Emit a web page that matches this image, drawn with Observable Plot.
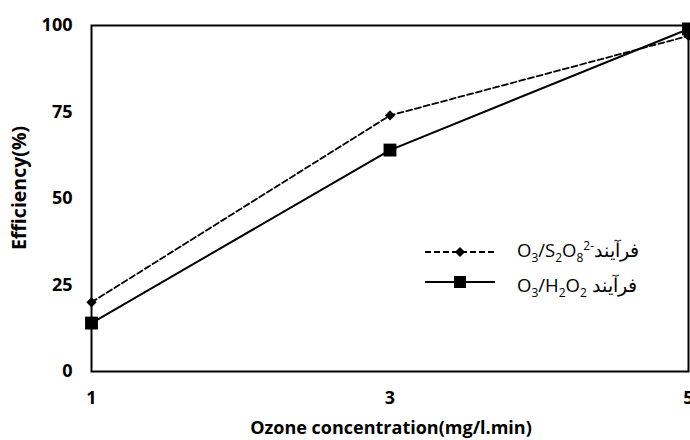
<!DOCTYPE html>
<html>
<head>
<meta charset="utf-8">
<script src="https://cdn.jsdelivr.net/npm/d3@7"></script>
<script src="https://cdn.jsdelivr.net/npm/@observablehq/plot@0.6"></script>
<style>
  body { margin: 0; background: #fff; }
  #wrap { position: relative; width: 690px; height: 440px; font-family: "Open Sans", sans-serif; }
  .leg { position: absolute; font-size: 18.5px; line-height: 26px; color: #000; white-space: nowrap; direction: ltr; }
  .leg sub, .leg sup { font-size: 12px; line-height: 0; }
</style>
</head>
<body>
<div id="wrap"></div>
<script>
const xValues = [1, 3, 5];
const persulfate = [20, 74, 97];
const peroxide = [14, 64, 99];
const xTicks = [1, 3, 5];
const yTicks = [0, 25, 50, 75, 100];
const xTitle = "Ozone concentration(mg/l.min)";
const yTitle = "Efficiency(%)";

const rows = [];
xValues.forEach((x, i) => {
  rows.push({x, y: persulfate[i], s: "persulfate"});
  rows.push({x, y: peroxide[i], s: "peroxide"});
});
const dashed = rows.filter(d => d.s === "persulfate");
const solid = rows.filter(d => d.s === "peroxide");

const chart = Plot.plot({
  width: 690,
  height: 440,
  marginLeft: 91,
  marginRight: 2,
  marginTop: 25,
  marginBottom: 69,
  style: {fontFamily: "'Open Sans', sans-serif", fontSize: "18px", fontWeight: "bold", background: "#fff"},
  x: {domain: [1, 5], ticks: xTicks, tickFormat: "d", tickSize: 0, tickPadding: 20, label: null},
  y: {domain: [0, 100], ticks: yTicks, tickFormat: "d", tickSize: 0, tickPadding: 19, label: null},
  marks: [
    Plot.frame({stroke: "#000", strokeWidth: 2}),
    Plot.line(dashed, {x: "x", y: "y", stroke: "#000", strokeWidth: 1.8, strokeDasharray: "6,3"}),
    Plot.line(solid, {x: "x", y: "y", stroke: "#000", strokeWidth: 2}),
    Plot.dot(dashed, {x: "x", y: "y", symbol: "diamond2", r: 4.6, fill: "#000", stroke: "none"}),
    Plot.dot(solid, {x: "x", y: "y", symbol: "square2", r: 8.2, fill: "#000", stroke: "none"})
  ]
});

const wrap = document.getElementById("wrap");
wrap.appendChild(chart);

const svg = d3.select(chart);
// axis titles
svg.append("text").attr("x", 391).attr("y", 429).attr("text-anchor", "middle").attr("dominant-baseline", "middle")
  .attr("font-size", 18).attr("font-weight", "bold").attr("fill", "#000").text(xTitle);
svg.append("text").attr("transform", "translate(21,188) rotate(-90)").attr("text-anchor", "middle").attr("dominant-baseline", "middle")
  .attr("font-size", 19.5).attr("font-weight", "bold").attr("fill", "#000").text(yTitle);

// legend keys
const lg = svg.append("g");
lg.append("line").attr("x1", 425).attr("x2", 495).attr("y1", 252).attr("y2", 252)
  .attr("stroke", "#000").attr("stroke-width", 1.8).attr("stroke-dasharray", "6,3");
lg.append("path").attr("d", d3.symbol(d3.symbolDiamond2, 66)()).attr("transform", "translate(460,252)").attr("fill", "#000");
lg.append("line").attr("x1", 425).attr("x2", 495).attr("y1", 282).attr("y2", 282)
  .attr("stroke", "#000").attr("stroke-width", 2);
lg.append("rect").attr("x", 454).attr("y", 276).attr("width", 12).attr("height", 12).attr("fill", "#000");

const l1 = document.createElement("div");
l1.className = "leg";
l1.style.left = "517px"; l1.style.top = "237px";
l1.innerHTML = 'O<sub>3</sub>/S<sub>2</sub>O<sub>8</sub><sup>2-</sup><span dir="rtl">فرآیند</span>';
wrap.appendChild(l1);
const l2 = document.createElement("div");
l2.className = "leg";
l2.style.left = "517px"; l2.style.top = "272px";
l2.innerHTML = 'O<sub>3</sub>/H<sub>2</sub>O<sub>2</sub> <span dir="rtl">فرآیند</span>';
wrap.appendChild(l2);
</script>
</body>
</html>
